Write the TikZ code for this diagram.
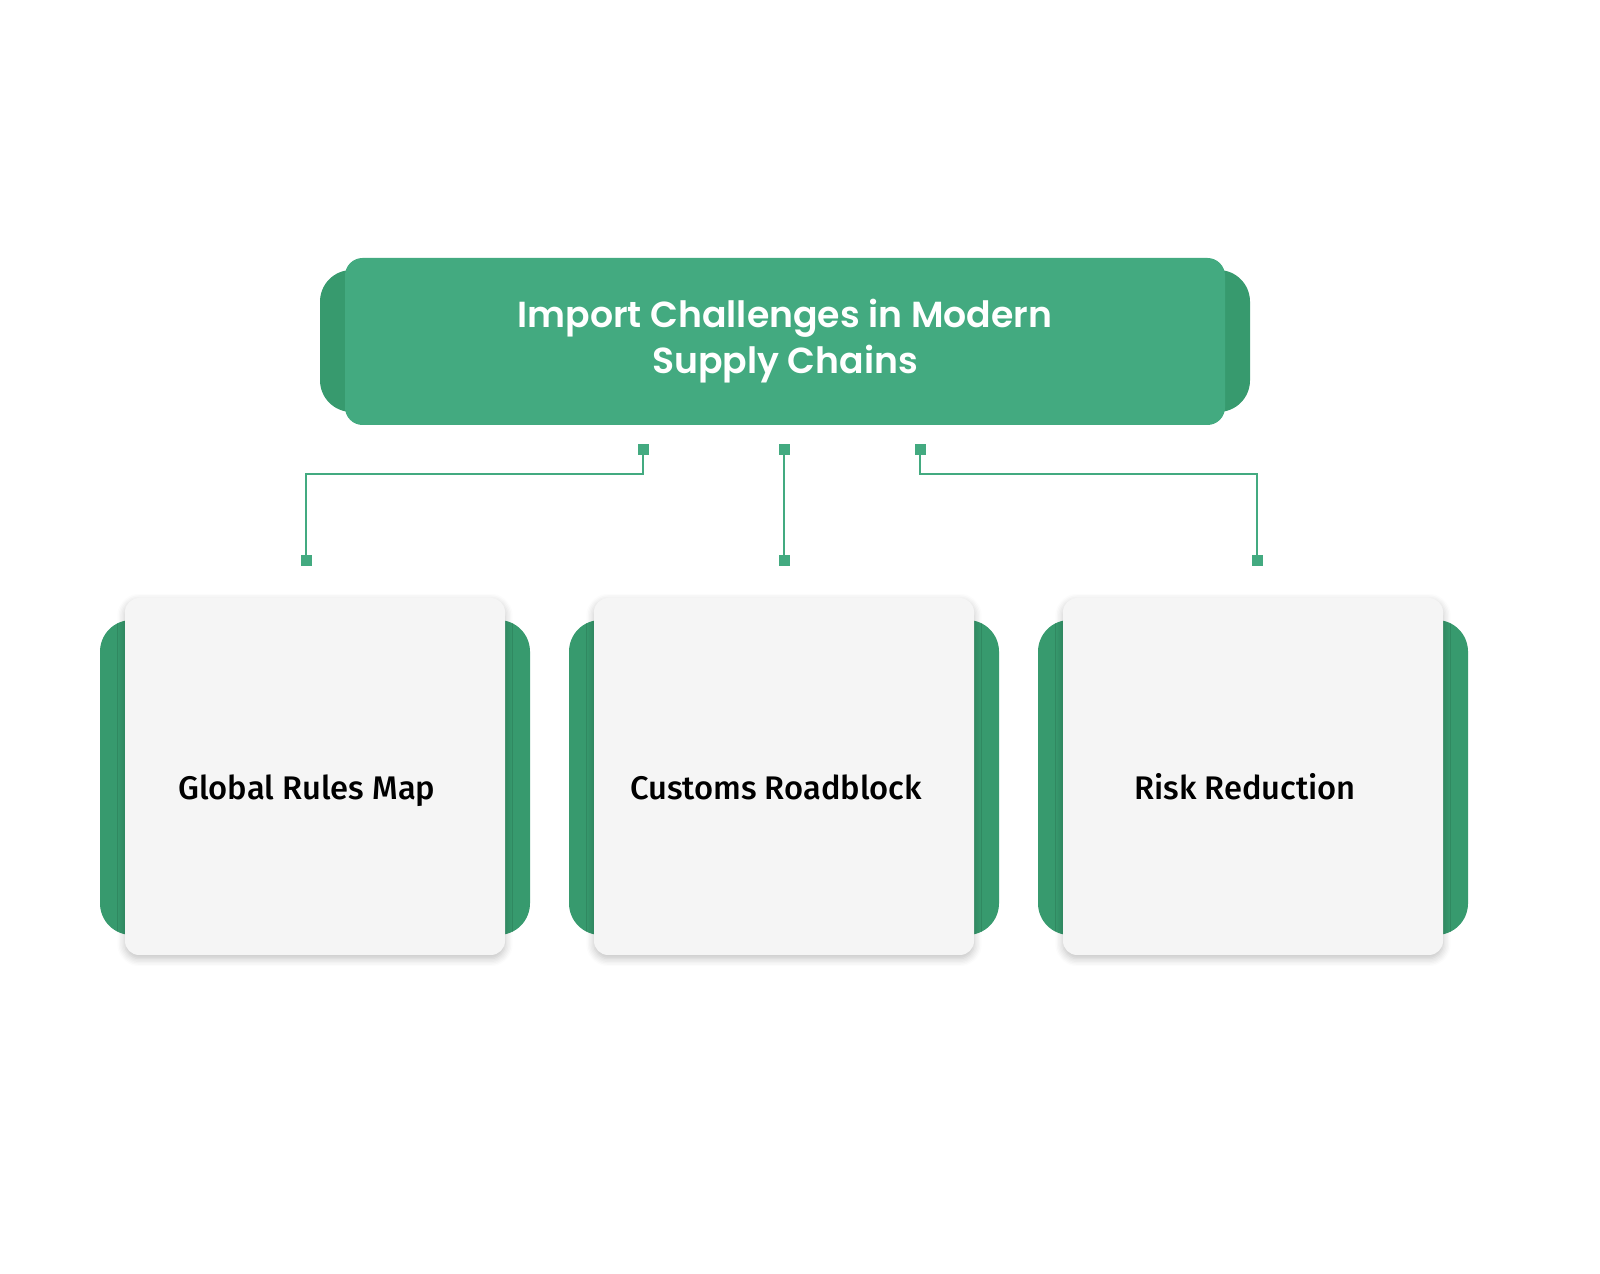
\documentclass[tikz,border=0pt]{standalone}
\usepackage{fontspec}
\setmainfont{Poppins}[BoldFont={* SemiBold}]
\newfontfamily\cardfont{Fira Sans}[BoldFont={* Medium}]
\definecolor{gmain}{HTML}{43AA80}
\definecolor{gdark}{HTML}{379A6E}
\definecolor{cardbg}{HTML}{F5F5F5}
\usetikzlibrary{shadows.blur}
\begin{document}
\begin{tikzpicture}[x=0.01cm,y=-0.01cm,
  sq/.style={fill=gmain,minimum size=0.11cm,inner sep=0pt},
  conn/.style={draw=gmain,line width=0.7pt},
  card/.style={fill=cardbg,rounded corners=4pt,blur shadow={shadow blur steps=6,shadow xshift=0pt,shadow yshift=-1pt,shadow opacity=25}},
  back/.style={fill=gdark,rounded corners=9pt},
  lbl/.style={font=\cardfont\fontsize{9.3}{11}\selectfont\bfseries,text=black,text height=7pt,text depth=2pt}]
\useasboundingbox (0,0) rectangle (1600,1274);
% title
\fill[gdark,rounded corners=9pt] (320,270) rectangle (1250,412);
\fill[gmain,rounded corners=5pt] (345,258) rectangle (1225,425);
\node[align=center,text=white,font=\fontsize{10.3}{13.2}\selectfont\bfseries] (title) at (785,341) {Import Challenges in Modern\\Supply Chains};
% cards
\foreach \n/\cx/\t in {a/315/Global Rules Map,b/784/Customs Roadblock,c/1253/Risk Reduction}{
  \fill[back] (\cx-215,620) rectangle (\cx+215,935);
  \fill[card] (\cx-190,598) rectangle (\cx+190,955);
  \node[lbl] (\n) at (\cx-8,791) {\t};
}
% connectors
\node[sq] (s1) at (643,450) {};
\node[sq] (s2) at (784,450) {};
\node[sq] (s3) at (920,450) {};
\node[sq] (e1) at (306,561) {};
\node[sq] (e2) at (784,561) {};
\node[sq] (e3) at (1257,561) {};
\draw[conn] (s1.center) |- (475,474) -| (e1.center);
\draw[conn] (s2.center) -- (e2.center);
\draw[conn] (s3.center) |- (1100,474) -| (e3.center);
\end{tikzpicture}
\end{document}
